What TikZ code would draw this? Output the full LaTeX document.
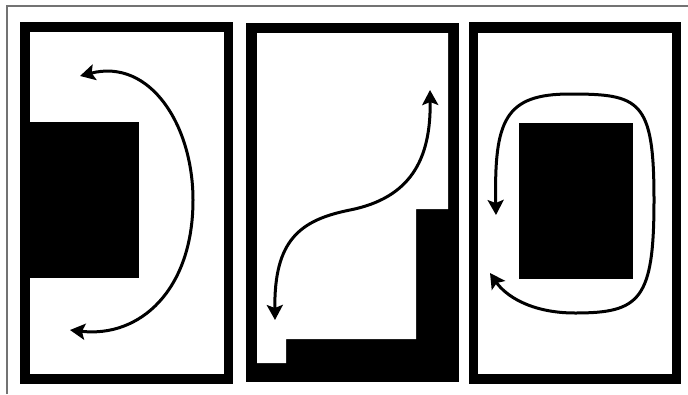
\documentclass[tikz,border=0pt]{standalone}
\usetikzlibrary{arrows.meta}
\begin{document}
\begin{tikzpicture}[x=1pt,y=-1pt,
  frameline/.style={draw=black!55,line width=1.2pt},
  curvearrow/.style={line width=3pt,{Stealth[length=15pt,width=16pt,inset=3pt]}-{Stealth[length=15pt,width=16pt,inset=3pt]}},
  solid/.style={fill=black},
  hole/.style={fill=white}]
\useasboundingbox (0,0) rectangle (688,394);
\fill[white] (0,0) rectangle (688,394);
% thin outer frame
\draw[frameline] (7,394) -- (7,6) -- (688,6);
% panel 1
\fill[solid] (20,22) rectangle (233,384);
\fill[hole] (30,32) rectangle (224,374);
\fill[solid] (30,122) rectangle (139,278);
\coordinate (p1a) at (80,76);
\coordinate (p1m) at (193,200);
\coordinate (p1b) at (70,330);
\draw[curvearrow] (p1a) .. controls (150,58) and (193,125) .. (p1m) .. controls (193,290) and (140,338) .. (p1b);
% panel 2
\fill[solid] (246,23) rectangle (459,382);
\fill[hole] (257,33) -- (448,33) -- (448,209) -- (416,209) -- (416,339) -- (286,339) -- (286,363) -- (257,363) -- cycle;
\coordinate (p2a) at (275,320);
\coordinate (p2m) at (350,210);
\coordinate (p2b) at (430,90);
\draw[curvearrow] (p2a) .. controls (274,240) and (300,220) .. (p2m) .. controls (410,198) and (431,160) .. (p2b);
% panel 3
\fill[solid] (469,22) rectangle (681,384);
\fill[hole] (478,33) rectangle (672,374);
\fill[solid] (519,123) rectangle (633,279);
\coordinate (p3a) at (496,215);
\coordinate (p3t) at (570,94);
\coordinate (p3r) at (654,200);
\coordinate (p3d) at (575,313);
\coordinate (p3b) at (490,273);
\draw[curvearrow] (p3a) .. controls (494,120) and (505,94) .. (p3t) .. controls (640,94) and (654,100) .. (p3r) .. controls (654,300) and (640,313) .. (p3d) .. controls (530,313) and (505,295) .. (p3b);
\end{tikzpicture}
\end{document}
